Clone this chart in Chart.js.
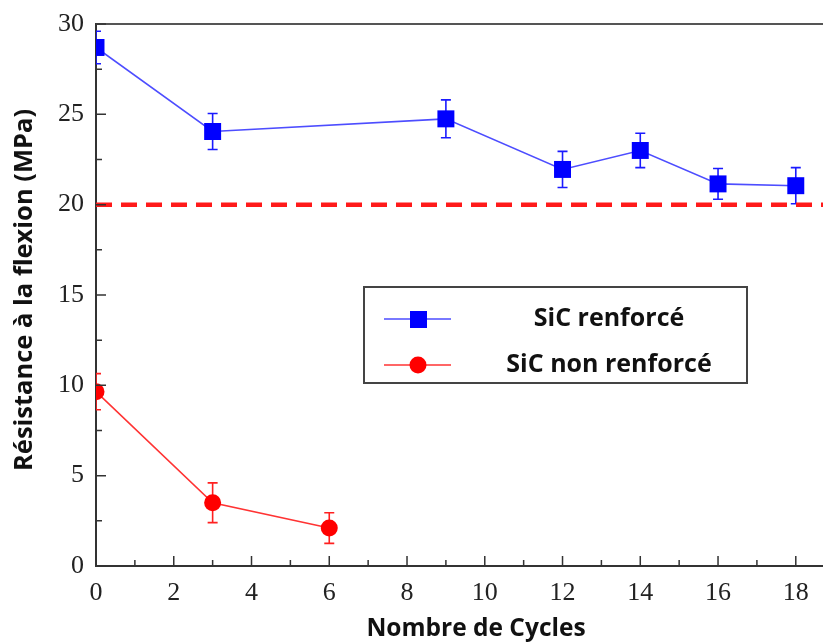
<!DOCTYPE html>
<html lang="fr">
<head>
<meta charset="UTF-8">
<title>Résistance à la flexion</title>
<script src="https://cdn.jsdelivr.net/npm/chart.js"></script>
<style>
  html, body { margin: 0; padding: 0; background: #fff; }
  #wrap { width: 823px; height: 644px; }
</style>
</head>
<body>
<div id="wrap"><canvas id="chart" width="823" height="644"></canvas></div>
<script>
// données
const cyclesRenf = [0, 3, 9, 12, 14, 16, 18];
const resRenf    = [28.7, 24.05, 24.75, 21.95, 23.0, 21.15, 21.05];
const errRenf    = [0.9, 1.0, 1.05, 1.0, 0.95, 0.85, 1.0];

const cyclesNon = [0, 3, 6];
const resNon    = [9.65, 3.5, 2.1];
const errNon    = [1.0, 1.1, 0.85];

const seuil = 20;

const xTicks = [0, 2, 4, 6, 8, 10, 12, 14, 16, 18];
const yTicks = [0, 5, 10, 15, 20, 25, 30];
const xMinor = [1, 3, 5, 7, 9, 11, 13, 15, 17];
const yMinor = [2.5, 7.5, 12.5, 17.5, 22.5, 27.5];
const xMax = 18.7;
const yMax = 30;

const labels = ["SiC renforcé", "SiC non renforcé"];
const xTitle = "Nombre de Cycles";
const yTitle = "Résistance à la flexion (MPa)";

const BLUE = "#0000ff", BLUE_LINE = "#4d4dff";
const RED = "#ff0000", RED_LINE = "#ff3333";
const AXIS = "#333333";

const toPts = (xs, ys) => xs.map((x, i) => ({ x: x, y: ys[i] }));

const errorBars = [
  { xs: cyclesRenf, ys: resRenf, err: errRenf, color: "#1a1aff", cap: 5 },
  { xs: cyclesNon, ys: resNon, err: errNon, color: "#ff2020", cap: 5 }
];

const decor = {
  id: "decor",
  beforeDatasetsDraw(chart) {
    const ctx = chart.ctx, xs = chart.scales.x, ys = chart.scales.y, a = chart.chartArea;
    ctx.save();
    ctx.beginPath();
    ctx.rect(a.left, a.top - 10, a.right - a.left, a.bottom - a.top + 10);
    ctx.clip();
    errorBars.forEach(s => {
      ctx.strokeStyle = s.color;
      ctx.lineWidth = 1.6;
      s.xs.forEach((x, i) => {
        const px = xs.getPixelForValue(x);
        const top = ys.getPixelForValue(s.ys[i] + s.err[i]);
        const bot = ys.getPixelForValue(s.ys[i] - s.err[i]);
        ctx.beginPath();
        ctx.moveTo(px, top); ctx.lineTo(px, bot);
        ctx.moveTo(px - s.cap, top); ctx.lineTo(px + s.cap, top);
        ctx.moveTo(px - s.cap, bot); ctx.lineTo(px + s.cap, bot);
        ctx.stroke();
      });
    });
    ctx.restore();
  },
  afterDraw(chart) {
    const ctx = chart.ctx, xs = chart.scales.x, ys = chart.scales.y, a = chart.chartArea;
    ctx.save();
    // cadre haut
    ctx.strokeStyle = "#555";
    ctx.lineWidth = 2;
    ctx.beginPath();
    ctx.moveTo(a.left, a.top); ctx.lineTo(a.right, a.top);
    ctx.stroke();
    // graduations vers l'intérieur
    ctx.strokeStyle = AXIS;
    ctx.lineWidth = 1.5;
    ctx.beginPath();
    xTicks.forEach(v => { const p = xs.getPixelForValue(v); ctx.moveTo(p, a.bottom); ctx.lineTo(p, a.bottom - 10); });
    xMinor.forEach(v => { const p = xs.getPixelForValue(v); ctx.moveTo(p, a.bottom); ctx.lineTo(p, a.bottom - 6); });
    yTicks.forEach(v => { const p = ys.getPixelForValue(v); ctx.moveTo(a.left, p); ctx.lineTo(a.left + 10, p); });
    yMinor.forEach(v => { const p = ys.getPixelForValue(v); ctx.moveTo(a.left, p); ctx.lineTo(a.left + 6, p); });
    ctx.stroke();

    // légende
    const lx = 364, ly = 287, lw = 383, lh = 96;
    ctx.fillStyle = "#fff";
    ctx.fillRect(lx, ly, lw, lh);
    ctx.strokeStyle = "#444";
    ctx.lineWidth = 2;
    ctx.strokeRect(lx, ly, lw, lh);
    const rows = [
      { y: 319, line: BLUE_LINE, fill: BLUE, shape: "rect" },
      { y: 365, line: RED_LINE, fill: RED, shape: "circle" }
    ];
    ctx.font = "bold 25px 'Open Sans', 'Liberation Sans', sans-serif";
    ctx.textAlign = "center";
    ctx.textBaseline = "middle";
    rows.forEach((r, i) => {
      ctx.strokeStyle = r.line;
      ctx.lineWidth = 1.6;
      ctx.beginPath(); ctx.moveTo(384, r.y); ctx.lineTo(451, r.y); ctx.stroke();
      ctx.fillStyle = r.fill;
      if (r.shape === "rect") ctx.fillRect(410, r.y - 8, 17, 17);
      else { ctx.beginPath(); ctx.arc(418, r.y, 8.5, 0, Math.PI * 2); ctx.fill(); }
      ctx.fillStyle = "#111";
      ctx.fillText(labels[i], 609, r.y);
    });

    // titres des axes
    ctx.fillStyle = "#111";
    ctx.font = "bold 24.5px 'Open Sans', 'Liberation Sans', sans-serif";
    ctx.fillText(xTitle, 476, 629);
    ctx.font = "bold 25.5px 'Open Sans', 'Liberation Sans', sans-serif";
    ctx.translate(25, 290);
    ctx.rotate(-Math.PI / 2);
    ctx.fillText(yTitle, 0, 0);
    ctx.restore();
  }
};

new Chart(document.getElementById("chart"), {
  type: "scatter",
  data: {
    datasets: [
      {
        label: "seuil",
        data: [{ x: 0, y: seuil }, { x: xMax, y: seuil }],
        showLine: true,
        borderColor: "#ff1a1a",
        borderWidth: 4.5,
        borderDash: [16, 9],
        pointRadius: 0
      },
      {
        label: labels[0],
        data: toPts(cyclesRenf, resRenf),
        showLine: true,
        borderColor: BLUE_LINE,
        borderWidth: 1.6,
        pointStyle: "rect",
        pointRadius: 12,
        pointBackgroundColor: BLUE,
        pointBorderColor: BLUE,
        pointBorderWidth: 0
      },
      {
        label: labels[1],
        data: toPts(cyclesNon, resNon),
        showLine: true,
        borderColor: RED_LINE,
        borderWidth: 1.6,
        pointStyle: "circle",
        pointRadius: 8.5,
        pointBackgroundColor: RED,
        pointBorderColor: RED,
        pointBorderWidth: 0
      }
    ]
  },
  options: {
    responsive: false,
    animation: false,
    devicePixelRatio: 1,
    layout: { autoPadding: false, padding: { top: 24, right: 0, left: 0, bottom: 0 } },
    plugins: { legend: { display: false }, tooltip: { enabled: false } },
    scales: {
      x: {
        type: "linear",
        min: 0,
        max: xMax,
        afterBuildTicks: s => { s.ticks = xTicks.map(v => ({ value: v })); },
        afterFit: s => { s.height = 78; s.paddingLeft = 0; s.paddingRight = 0; },
        grid: { display: false },
        border: { display: true, color: AXIS, width: 2 },
        ticks: {
          padding: 4,
          color: "#222",
          font: { family: "'Liberation Serif', 'DejaVu Serif', serif", size: 26 }
        }
      },
      y: {
        min: 0,
        max: yMax,
        afterBuildTicks: s => { s.ticks = yTicks.map(v => ({ value: v })); },
        afterFit: s => { s.width = 96; s.paddingTop = 0; s.paddingBottom = 0; },
        grid: { display: false },
        border: { display: true, color: AXIS, width: 2 },
        ticks: {
          padding: 4,
          color: "#222",
          font: { family: "'Liberation Serif', 'DejaVu Serif', serif", size: 26 }
        }
      }
    }
  },
  plugins: [decor]
});
</script>
</body>
</html>
